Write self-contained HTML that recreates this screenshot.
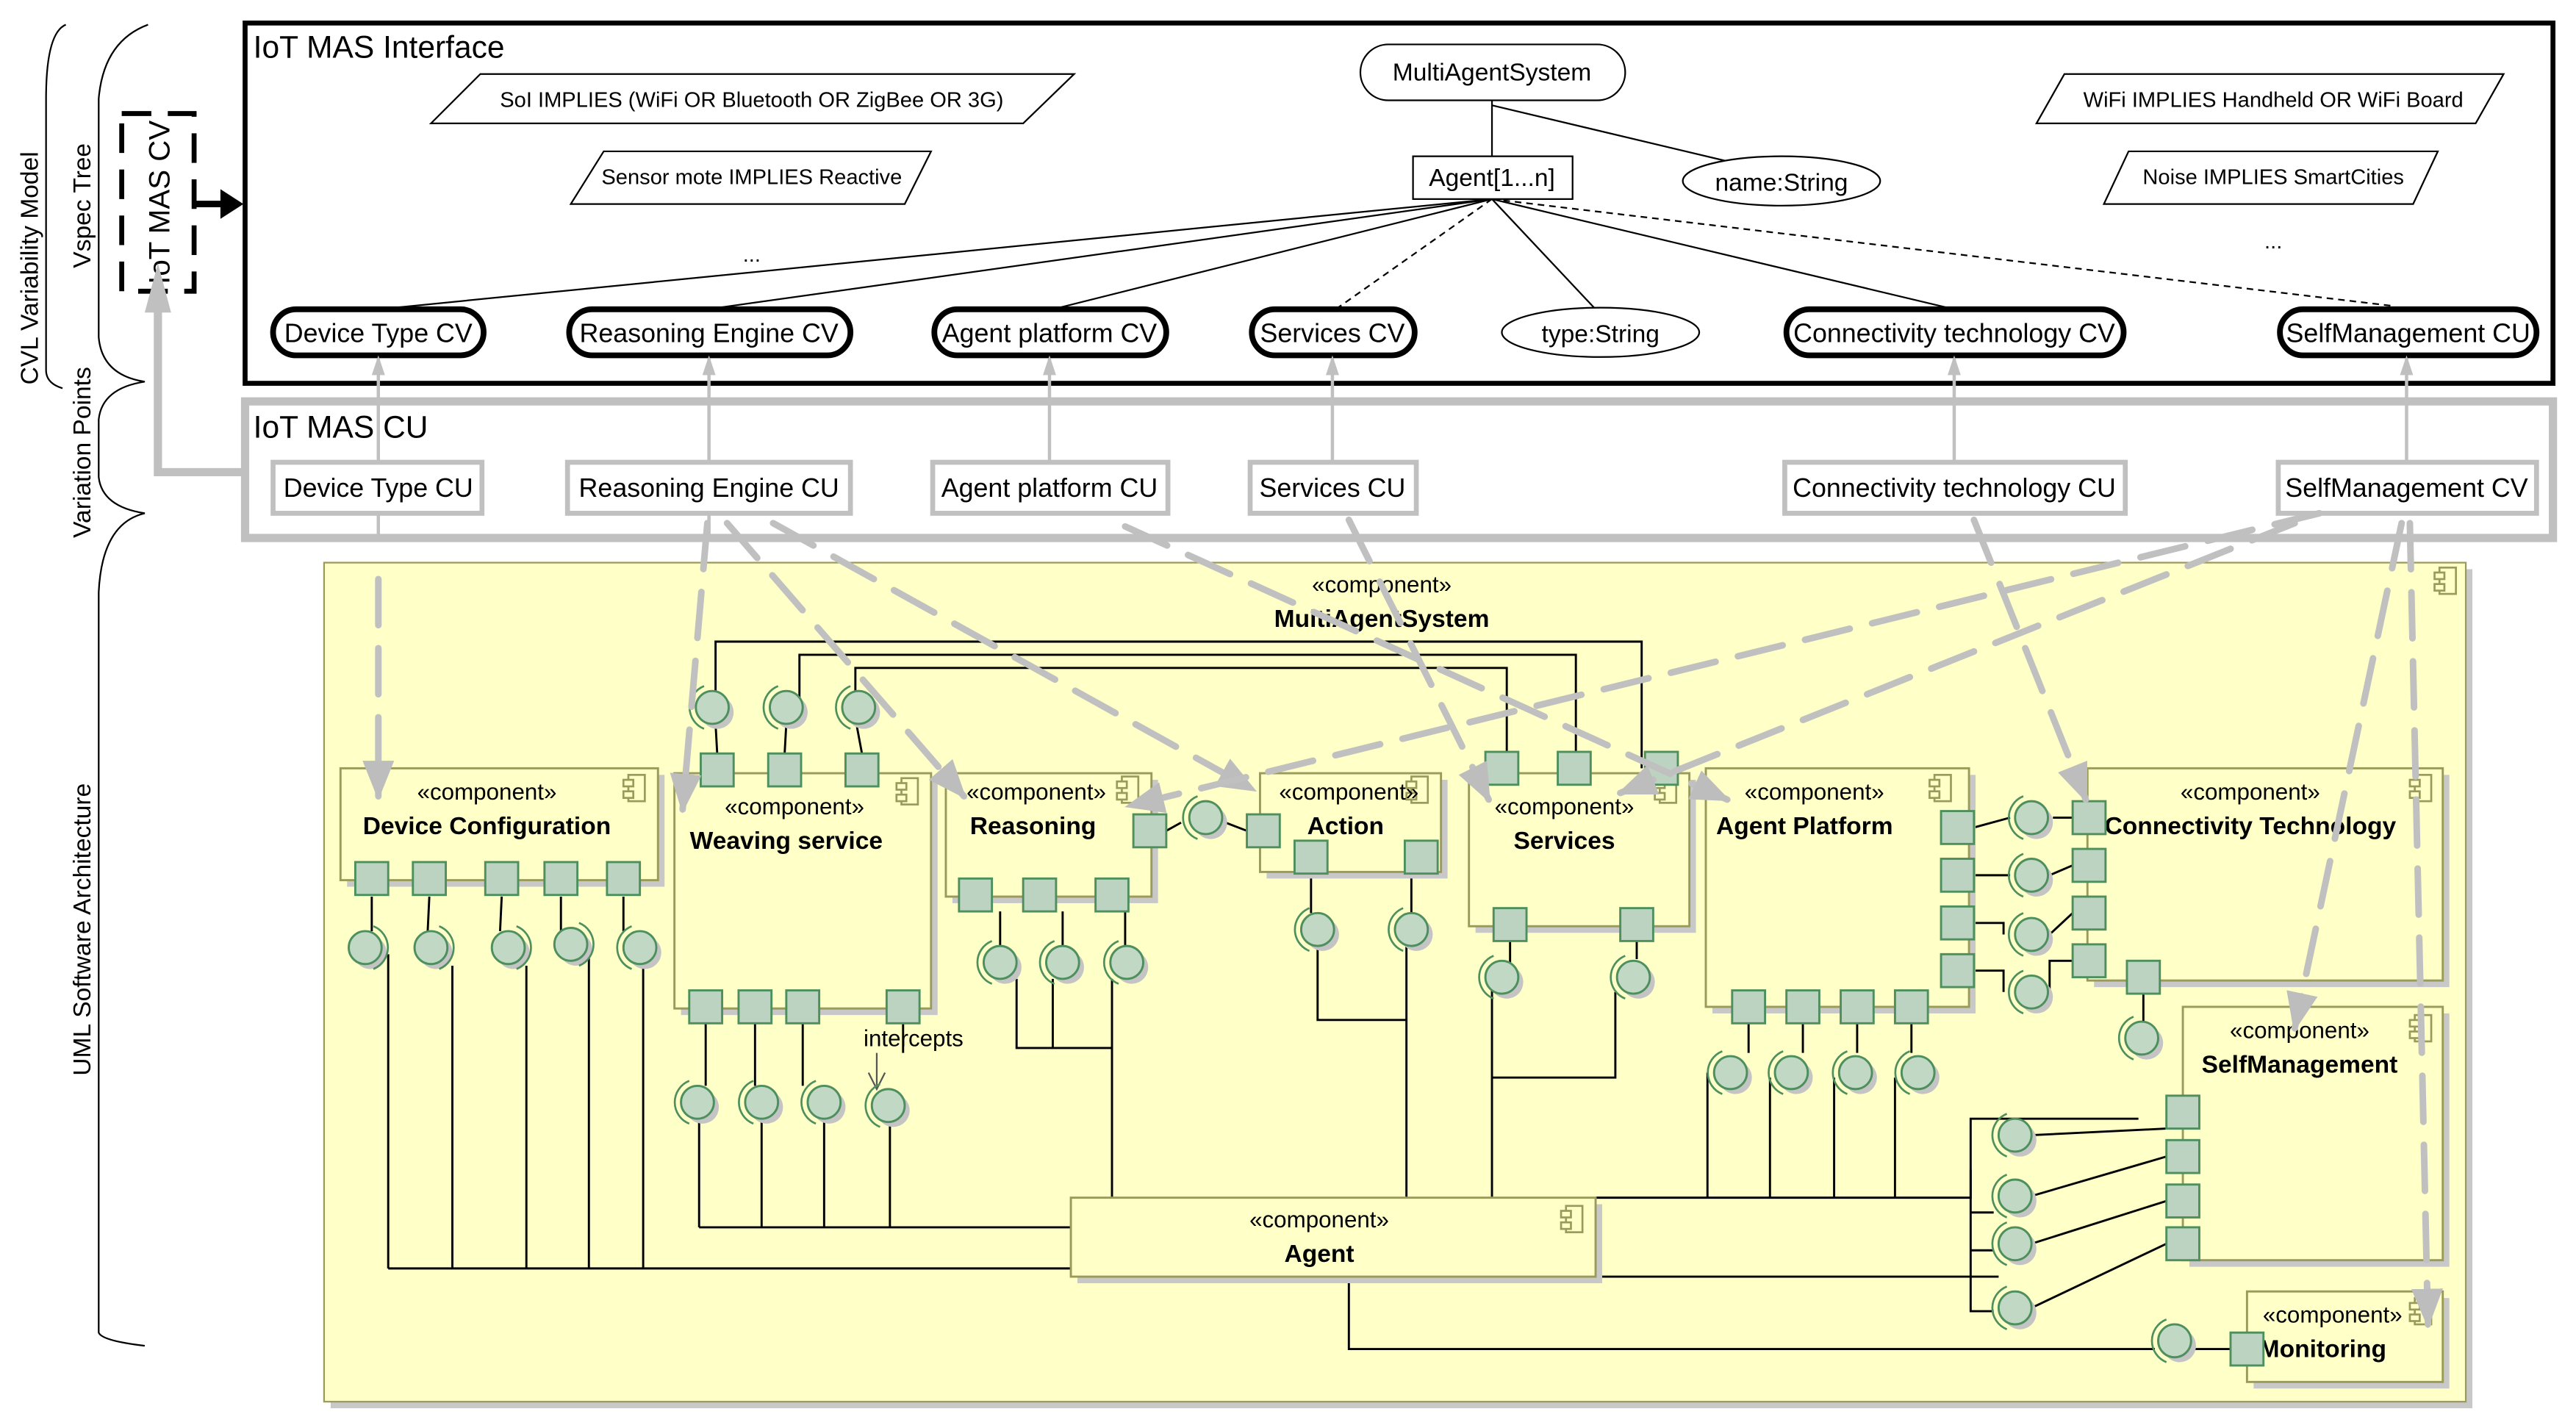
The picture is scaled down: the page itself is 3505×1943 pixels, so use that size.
<!DOCTYPE html>
<html><head><meta charset="utf-8"><style>
html,body{margin:0;padding:0;background:#fff}
svg{display:block}
text{font-family:"Liberation Sans",Arial,sans-serif}
</style></head><body>
<svg width="3505" height="1943" viewBox="0 0 1566 868" preserveAspectRatio="none" xmlns="http://www.w3.org/2000/svg">
<defs>
<g id="ball"><circle cx="3" cy="3" r="10" fill="#c4c4c4"/><circle r="10" fill="#c0d8c4" stroke="#4e8f5e" stroke-width="1.3"/><path d="M-5,-13 A14,14 0 0,0 -5,13" fill="none" stroke="#4e8f5e" stroke-width="1.2"/></g>
<g id="ballr"><circle cx="3" cy="3" r="10" fill="#c4c4c4"/><circle r="10" fill="#c0d8c4" stroke="#4e8f5e" stroke-width="1.3"/><path d="M5,-13 A14,14 0 0,1 5,13" fill="none" stroke="#4e8f5e" stroke-width="1.2"/></g>
<g id="port"><rect x="-10" y="-10" width="20" height="20" fill="#bcd3c1" stroke="#4e8f5e" stroke-width="1.3"/></g>
<g id="icon"><rect x="-4" y="-8" width="10" height="16" fill="none" stroke="#9a9a5a" stroke-width="1.2"/><rect x="-7" y="-5" width="6" height="4" fill="#ffffc8" stroke="#9a9a5a" stroke-width="1.2"/><rect x="-7" y="2" width="6" height="4" fill="#ffffc8" stroke="#9a9a5a" stroke-width="1.2"/></g>
<marker id="gs" viewBox="0 0 10 10" refX="9" refY="5" markerWidth="6" markerHeight="6" orient="auto"><path d="M0,1 L10,5 L0,9 z" fill="#bdbdbd"/></marker>
</defs>

<g fill="none" stroke="#000" stroke-width="1">
<path d="M40,15 Q28,20 28,60 L28,225 Q28,233 38,236"/>
<path d="M90,15 Q63,25 60,60 L60,205 Q62,228 88,232 Q62,236 60,255 L60,290 Q62,308 88,312 Q62,318 60,360 L60,810 Q62,815 88,818"/>
</g>
<text transform="translate(23,163) rotate(-90)" font-size="15" text-anchor="middle">CVL Variability Model</text>
<text transform="translate(55,125) rotate(-90)" font-size="15" text-anchor="middle">Vspec Tree</text>
<text transform="translate(55,275) rotate(-90)" font-size="15" text-anchor="middle">Variation Points</text>
<text transform="translate(55,565) rotate(-90)" font-size="15" text-anchor="middle">UML Software Architecture</text>

<rect x="74" y="69" width="44" height="108" fill="none" stroke="#000" stroke-width="3" stroke-dasharray="18,10"/>
<text transform="translate(103,123) rotate(-90)" font-size="18" text-anchor="middle">IoT MAS CV</text>
<path d="M118,124 L138,124" stroke="#000" stroke-width="4"/>
<path d="M134,115 L148,124 L134,133 z" fill="#000"/>

<rect x="149" y="14" width="1403" height="219" fill="#fff" stroke="#000" stroke-width="3"/>
<text x="154" y="35" font-size="19">IoT MAS Interface</text>

<g fill="#fff" stroke="#000" stroke-width="1">
<path d="M262,75 L292,45 L653,45 L622,75 z"/>
<path d="M347,124 L367,92 L566,92 L550,124 z"/>
<path d="M1238,75 L1255,45 L1522,45 L1505,75 z"/>
<path d="M1279,124 L1294,92 L1482,92 L1467,124 z"/>
</g>
<g font-size="13" text-anchor="middle">
<text x="457" y="65">SoI IMPLIES (WiFi OR Bluetooth OR ZigBee OR 3G)</text>
<text x="457" y="112">Sensor mote IMPLIES Reactive</text>
<text x="457" y="159">...</text>
<text x="1382" y="65">WiFi IMPLIES Handheld OR WiFi Board</text>
<text x="1382" y="112">Noise IMPLIES SmartCities</text>
<text x="1382" y="151">...</text>
</g>

<g stroke="#000" stroke-width="1" fill="none">
<path d="M907,61 L907,95"/>
<path d="M907,64 L1050,98"/>
<path d="M907,121 L230,188"/>
<path d="M907,121 L430,188"/>
<path d="M907,121 L640,188"/>
<path d="M907,121 L970,188"/>
<path d="M907,121 L1188,188"/>
<path d="M907,121 L812,188" stroke-dasharray="4,3"/>
<path d="M907,121 L1455,186" stroke-dasharray="4,3"/>
</g>
<rect x="827" y="27" width="161" height="34" rx="17" fill="#fff" stroke="#000"/>
<text x="907" y="49" font-size="15" text-anchor="middle">MultiAgentSystem</text>
<rect x="859" y="95" width="97" height="26" fill="#fff" stroke="#000"/>
<text x="907" y="113" font-size="15" text-anchor="middle">Agent[1...n]</text>
<ellipse cx="1083" cy="110" rx="60" ry="15" fill="#fff" stroke="#000"/>
<text x="1083" y="116" font-size="15" text-anchor="middle">name:String</text>
<ellipse cx="973" cy="202" rx="60" ry="15" fill="#fff" stroke="#000"/>
<text x="973" y="208" font-size="15" text-anchor="middle">type:String</text>

<g fill="#fff" stroke="#000" stroke-width="3.5">
<rect x="166" y="188" width="128" height="28" rx="14"/>
<rect x="346" y="188" width="171" height="28" rx="14"/>
<rect x="568" y="188" width="141" height="28" rx="14"/>
<rect x="761" y="188" width="99" height="28" rx="14"/>
<rect x="1086" y="188" width="205" height="28" rx="14"/>
<rect x="1386" y="188" width="156" height="28" rx="14"/>
</g>
<g font-size="16" text-anchor="middle">
<text x="230" y="208">Device Type CV</text>
<text x="431" y="208">Reasoning Engine CV</text>
<text x="638" y="208">Agent platform CV</text>
<text x="810" y="208">Services CV</text>
<text x="1188" y="208">Connectivity technology CV</text>
<text x="1464" y="208">SelfManagement CU</text>
</g>

<rect x="149" y="244" width="1403" height="83" fill="none" stroke="#c0c0c0" stroke-width="5"/>
<text x="154" y="266" font-size="19">IoT MAS CU</text>
<path d="M149,287 L96,287 L96,170" fill="none" stroke="#c0c0c0" stroke-width="5"/>
<path d="M88,190 L96,160 L104,190 z" fill="#c0c0c0"/>
<g stroke="#c0c0c0" stroke-width="2" fill="none">
<path d="M230,327 L230,312 M431,327 L431,312 M230,281 L230,218 M431,281 L431,218 M638,281 L638,218 M810,281 L810,218 M1188,281 L1188,218 M1463,281 L1463,218"/>
</g>
<g fill="#c0c0c0">
<path d="M226,228 L230,216 L234,228 z"/><path d="M427,228 L431,216 L435,228 z"/><path d="M634,228 L638,216 L642,228 z"/><path d="M806,228 L810,216 L814,228 z"/><path d="M1184,228 L1188,216 L1192,228 z"/><path d="M1459,228 L1463,216 L1467,228 z"/>
</g>
<g fill="#fff" stroke="#c0c0c0" stroke-width="3">
<rect x="166" y="281" width="127" height="31"/>
<rect x="345" y="281" width="172" height="31"/>
<rect x="567" y="281" width="143" height="31"/>
<rect x="760" y="281" width="101" height="31"/>
<rect x="1085" y="281" width="207" height="31"/>
<rect x="1385" y="281" width="157" height="31"/>
</g>
<g font-size="16" text-anchor="middle">
<text x="230" y="302">Device Type CU</text>
<text x="431" y="302">Reasoning Engine CU</text>
<text x="638" y="302">Agent platform CU</text>
<text x="810" y="302">Services CU</text>
<text x="1188" y="302">Connectivity technology CU</text>
<text x="1463" y="302">SelfManagement CV</text>
</g>

<rect x="201" y="346" width="1302" height="510" fill="#c8c8c8"/>
<rect x="197" y="342" width="1302" height="510" fill="#ffffc8" stroke="#9a9a5a"/>
<use href="#icon" x="1487" y="353"/>
<text x="840" y="360" font-size="14" text-anchor="middle">«component»</text>
<text x="840" y="381" font-size="15" font-weight="bold" text-anchor="middle">MultiAgentSystem</text>

<g stroke="#000" stroke-width="1.3" fill="none">
<path d="M435,428 L435,390 L998,390 L998,467"/>
<path d="M486,428 L486,398 L958,398 L958,467"/>
<path d="M520,420 L520,406 L916,406 L916,467"/>
<path d="M435,440 L436,458 M478,440 L477,458 M521,442 L524,458"/>
<path d="M226,545 L226,566 M261,545 L260,566 M305,545 L304,566 M341,545 L341,566 M379,545 L379,566"/>
<path d="M236,580 L236,771 M275,587 L275,771 M320,587 L320,771 M358,582 L358,771 M391,588 L391,771 M236,771 L651,771"/>
<path d="M429,622 L429,660 M459,622 L459,660 M488,622 L488,660 M549,622 L549,640"/>
<path d="M425,680 L425,746 M463,680 L463,746 M501,680 L501,746 M541,680 L541,746 M425,746 L651,746"/>
<path d="M709,505 L718,500 M745,500 L758,505"/>
<path d="M608,554 L608,575 M646,554 L646,575 M684,554 L684,575 M618,595 L618,637 L676,637 M640,595 L640,637 M676,595 L676,728"/>
<path d="M797,531 L797,555 M858,531 L858,555 M801,575 L801,620 L855,620 M855,575 L855,728"/>
<path d="M918,572 L918,590 M995,572 L995,583 M907,600 L907,728 M907,655 L982,655 L982,603"/>
<path d="M1200,503 L1222,497 M1200,532 L1222,532 M1200,561 L1218,561 L1218,568 M1200,590 L1218,590 L1218,603 M1248,497 L1260,497 M1246,532 L1260,526 M1246,568 L1260,555 M1246,603 L1246,584 L1260,584"/>
<path d="M1063,622 L1063,640 M1096,622 L1096,640 M1129,622 L1129,640 M1162,622 L1162,640"/>
<path d="M1038,652 L1038,728 M1076,655 L1076,728 M1115,655 L1115,728 M1152,655 L1152,728 M970,728 L1198,728 L1198,680 L1300,680"/>
<path d="M1303,604 L1303,622"/>
<path d="M1235,690 L1317,686 M1235,727 L1317,703 M1235,756 L1317,730 M1235,795 L1317,756 M1198,711 L1198,797 L1212,797 M1198,737 L1212,737 M1198,760 L1212,760 M970,776 L1215,776"/>
<path d="M820,776 L820,820 L1310,820 M1334,820 L1356,820"/>
</g>
<path d="M533,640 L533,660" stroke="#555" stroke-width="1"/>
<path d="M528,652 L533,662 L538,652" fill="none" stroke="#555" stroke-width="1"/>
<text x="525" y="636" font-size="14">intercepts</text>

<g>
<rect x="211" y="471" width="193" height="68" fill="#c8c8c8"/><rect x="207" y="467" width="193" height="68" fill="#ffffc8" stroke="#9a9a5a" stroke-width="1.3"/>
<rect x="414" y="474" width="156" height="143" fill="#c8c8c8"/><rect x="410" y="470" width="156" height="143" fill="#ffffc8" stroke="#9a9a5a" stroke-width="1.3"/>
<rect x="579" y="474" width="125" height="75" fill="#c8c8c8"/><rect x="575" y="470" width="125" height="75" fill="#ffffc8" stroke="#9a9a5a" stroke-width="1.3"/>
<rect x="770" y="474" width="110" height="60" fill="#c8c8c8"/><rect x="766" y="470" width="110" height="60" fill="#ffffc8" stroke="#9a9a5a" stroke-width="1.3"/>
<rect x="897" y="474" width="134" height="93" fill="#c8c8c8"/><rect x="893" y="470" width="134" height="93" fill="#ffffc8" stroke="#9a9a5a" stroke-width="1.3"/>
<rect x="1041" y="471" width="160" height="145" fill="#c8c8c8"/><rect x="1037" y="467" width="160" height="145" fill="#ffffc8" stroke="#9a9a5a" stroke-width="1.3"/>
<rect x="1273" y="471" width="216" height="129" fill="#c8c8c8"/><rect x="1269" y="467" width="216" height="129" fill="#ffffc8" stroke="#9a9a5a" stroke-width="1.3"/>
<rect x="1331" y="616" width="158" height="154" fill="#c8c8c8"/><rect x="1327" y="612" width="158" height="154" fill="#ffffc8" stroke="#9a9a5a" stroke-width="1.3"/>
<rect x="655" y="732" width="319" height="48" fill="#c8c8c8"/><rect x="651" y="728" width="319" height="48" fill="#ffffc8" stroke="#9a9a5a" stroke-width="1.3"/>
<rect x="1370" y="789" width="119" height="55" fill="#c8c8c8"/><rect x="1366" y="785" width="119" height="55" fill="#ffffc8" stroke="#9a9a5a" stroke-width="1.3"/>
</g>
<use href="#icon" x="386" y="479"/><use href="#icon" x="552" y="481"/><use href="#icon" x="686" y="480"/><use href="#icon" x="862" y="480"/><use href="#icon" x="1013" y="480"/><use href="#icon" x="1180" y="479"/><use href="#icon" x="1472" y="479"/><use href="#icon" x="1472" y="625"/><use href="#icon" x="956" y="741"/><use href="#icon" x="1472" y="797"/>
<g font-size="14" text-anchor="middle">
<text x="296" y="486">«component»</text><text x="483" y="495">«component»</text><text x="630" y="486">«component»</text><text x="820" y="486">«component»</text><text x="951" y="495">«component»</text><text x="1103" y="486">«component»</text><text x="1368" y="486">«component»</text><text x="1398" y="631">«component»</text><text x="802" y="746">«component»</text><text x="1418" y="804">«component»</text>
</g>
<g font-size="15" font-weight="bold" text-anchor="middle">
<text x="296" y="507">Device Configuration</text><text x="478" y="516">Weaving service</text><text x="628" y="507">Reasoning</text><text x="818" y="507">Action</text><text x="951" y="516">Services</text><text x="1097" y="507">Agent Platform</text><text x="1368" y="507">Connectivity Technology</text><text x="1398" y="652">SelfManagement</text><text x="802" y="767">Agent</text><text x="1412" y="825">Monitoring</text>
</g>

<g>
<use href="#port" x="226" y="534"/><use href="#port" x="261" y="534"/><use href="#port" x="305" y="534"/><use href="#port" x="341" y="534"/><use href="#port" x="379" y="534"/>
<use href="#port" x="436" y="468"/><use href="#port" x="477" y="468"/><use href="#port" x="524" y="468"/>
<use href="#port" x="429" y="612"/><use href="#port" x="459" y="612"/><use href="#port" x="488" y="612"/><use href="#port" x="549" y="612"/>
<use href="#port" x="699" y="505"/><use href="#port" x="768" y="505"/>
<use href="#port" x="593" y="544"/><use href="#port" x="632" y="544"/><use href="#port" x="676" y="544"/>
<use href="#port" x="797" y="521"/><use href="#port" x="864" y="521"/>
<use href="#port" x="913" y="467"/><use href="#port" x="957" y="467"/><use href="#port" x="1010" y="467"/>
<use href="#port" x="918" y="562"/><use href="#port" x="995" y="562"/>
<use href="#port" x="1190" y="503"/><use href="#port" x="1190" y="532"/><use href="#port" x="1190" y="561"/><use href="#port" x="1190" y="590"/>
<use href="#port" x="1270" y="497"/><use href="#port" x="1270" y="526"/><use href="#port" x="1270" y="555"/><use href="#port" x="1270" y="584"/>
<use href="#port" x="1063" y="612"/><use href="#port" x="1096" y="612"/><use href="#port" x="1129" y="612"/><use href="#port" x="1162" y="612"/>
<use href="#port" x="1303" y="594"/>
<use href="#port" x="1327" y="676"/><use href="#port" x="1327" y="703"/><use href="#port" x="1327" y="730"/><use href="#port" x="1327" y="756"/>
<use href="#port" x="1366" y="820"/>
</g>
<g>
<use href="#ballr" x="222" y="576"/><use href="#ballr" x="262" y="576"/><use href="#ballr" x="309" y="576"/><use href="#ballr" x="347" y="574"/><use href="#ball" x="389" y="576"/>
<use href="#ball" x="433" y="430"/><use href="#ball" x="478" y="430"/><use href="#ball" x="522" y="430"/>
<use href="#ball" x="424" y="670"/><use href="#ball" x="463" y="670"/><use href="#ball" x="501" y="670"/><use href="#ball" x="540" y="672"/>
<use href="#ball" x="733" y="497"/>
<use href="#ball" x="608" y="585"/><use href="#ball" x="646" y="585"/><use href="#ball" x="685" y="585"/>
<use href="#ball" x="801" y="565"/><use href="#ball" x="858" y="565"/>
<use href="#ball" x="913" y="594"/><use href="#ball" x="993" y="594"/>
<use href="#ball" x="1235" y="497"/><use href="#ball" x="1235" y="532"/><use href="#ball" x="1235" y="568"/><use href="#ball" x="1235" y="603"/>
<use href="#ball" x="1052" y="652"/><use href="#ball" x="1089" y="652"/><use href="#ball" x="1128" y="652"/><use href="#ball" x="1166" y="652"/>
<use href="#ball" x="1302" y="631"/>
<use href="#ball" x="1225" y="690"/><use href="#ball" x="1225" y="727"/><use href="#ball" x="1225" y="756"/><use href="#ball" x="1225" y="795"/>
<use href="#ball" x="1322" y="815"/>
</g>

<g stroke="#c0c0c0" stroke-width="4" fill="none" stroke-dasharray="28,14" stroke-linecap="round" marker-end="url(#gs)">
<path d="M230,352 L230,484"/>
<path d="M430,318 L415,492"/>
<path d="M442,318 L586,484"/>
<path d="M470,318 L762,480"/>
<path d="M684,320 L1050,486"/>
<path d="M820,316 L905,486"/>
<path d="M1410,312 L686,490"/>
<path d="M1395,318 L985,482"/>
<path d="M1200,316 L1268,486"/>
<path d="M1460,318 L1395,625"/>
<path d="M1465,318 L1476,805"/>
</g>
</svg>
</body></html>
